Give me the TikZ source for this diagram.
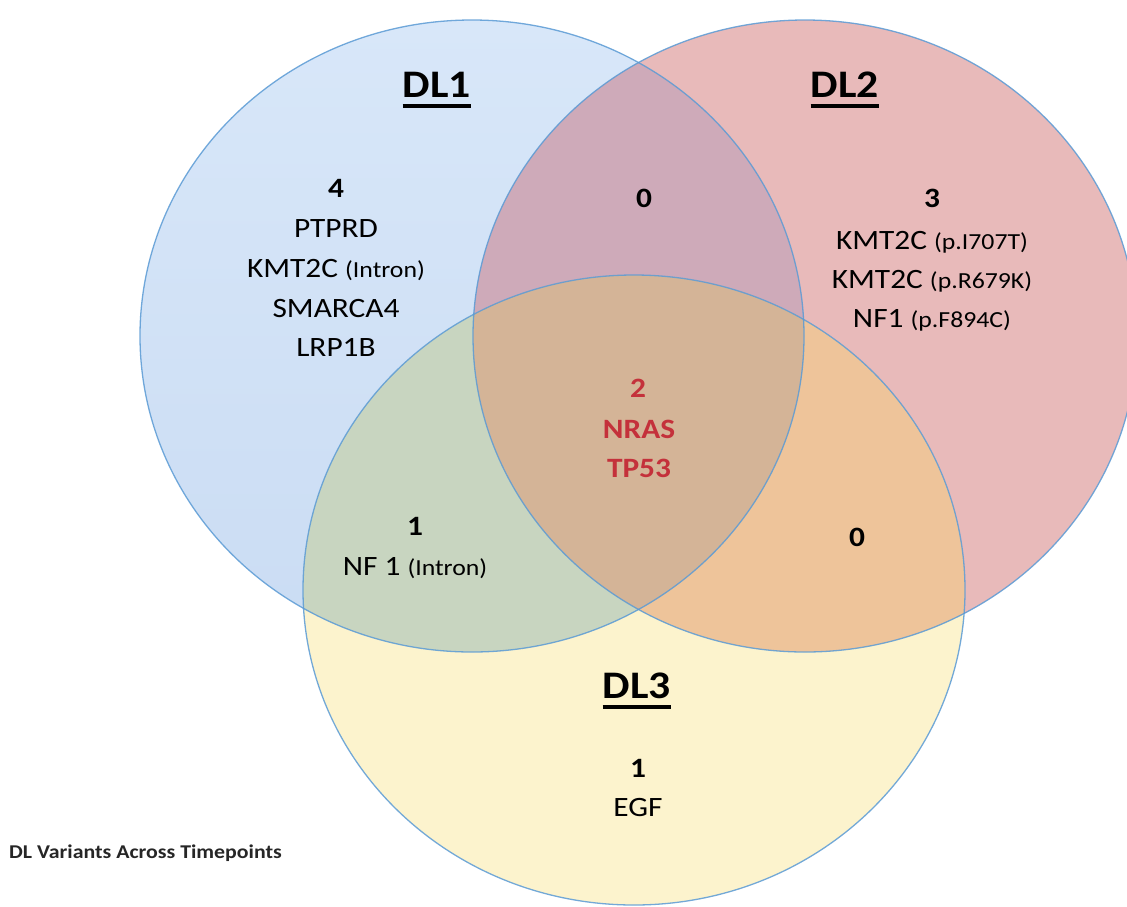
\documentclass[tikz,border=0pt]{standalone}
\usepackage{fontspec}
\setmainfont{Carlito}
\definecolor{cblue}{HTML}{CADCF3}
\definecolor{cbluetop}{HTML}{D8E7F9}
\definecolor{cpink}{HTML}{E8BABA}
\definecolor{cyellow}{HTML}{FCF3CD}
\definecolor{cmauve}{HTML}{CEAAB9}
\definecolor{cgreen}{HTML}{C8D5C0}
\definecolor{corange}{HTML}{EEC49A}
\definecolor{ccenter}{HTML}{D4B497}
\definecolor{cline}{HTML}{5B9BD5}
\definecolor{cred}{HTML}{C4313B}
\newcommand{\hstretch}[1]{\scalebox{1.12}[1]{#1}}
\newcommand{\paren}[1]{{\fontsize{23}{23}\selectfont #1}}
\tikzset{
  setlbl/.style={font=\fontsize{39}{39}\selectfont\bfseries, anchor=base, inner sep=0pt},
  setnum/.style={font=\fontsize{28}{28}\selectfont\bfseries, anchor=base, inner sep=0pt},
  setitem/.style={font=\fontsize{28}{28}\selectfont, anchor=base, inner sep=0pt},
  redtext/.style={text=cred},
  uline/.style={line width=4pt},
  outline/.style={draw=cline, line width=1.3pt, draw opacity=0.85},
}
\begin{document}
\begin{tikzpicture}[x=1pt,y=-1pt]
\useasboundingbox (0,0) rectangle (1127,906);
\fill[white] (0,0) rectangle (1127,906);
% base fills
\shade[top color=cbluetop, bottom color=cblue] (472,336) ellipse [x radius=332pt, y radius=316pt];
\fill[cpink] (805,336) ellipse [x radius=332pt, y radius=316pt];
\fill[cyellow] (634,590) ellipse [x radius=331pt, y radius=315pt];
% pairwise overlaps
\begin{scope}
  \clip (472,336) ellipse [x radius=332pt, y radius=316pt];
  \fill[cmauve] (805,336) ellipse [x radius=332pt, y radius=316pt];
  \fill[cgreen] (634,590) ellipse [x radius=331pt, y radius=315pt];
\end{scope}
\begin{scope}
  \clip (805,336) ellipse [x radius=332pt, y radius=316pt];
  \fill[corange] (634,590) ellipse [x radius=331pt, y radius=315pt];
\end{scope}
\begin{scope}
  \clip (472,336) ellipse [x radius=332pt, y radius=316pt];
  \clip (805,336) ellipse [x radius=332pt, y radius=316pt];
  \fill[ccenter] (634,590) ellipse [x radius=331pt, y radius=315pt];
\end{scope}
% outlines
\draw[outline] (472,336) ellipse [x radius=332pt, y radius=316pt];
\draw[outline] (805,336) ellipse [x radius=332pt, y radius=316pt];
\draw[outline] (634,590) ellipse [x radius=331pt, y radius=315pt];
% set labels
\node[setlbl] (dl1) at (437,97) {\hstretch{DL1}};
\node[setlbl] (dl2) at (845,97) {\hstretch{DL2}};
\node[setlbl] (dl3) at (637,698) {\hstretch{DL3}};
\draw[uline] ([yshift=-9pt]dl1.base west) -- ([yshift=-9pt]dl1.base east);
\draw[uline] ([yshift=-9pt]dl2.base west) -- ([yshift=-9pt]dl2.base east);
\draw[uline] ([yshift=-9pt]dl3.base west) -- ([yshift=-9pt]dl3.base east);
% DL1 only
\node[setnum] (n4) at (336,197) {\hstretch{4}};
\node[setitem] (g1a) at (336,237) {\hstretch{PTPRD}};
\node[setitem] (g1b) at (336,277) {\hstretch{KMT2C \paren{(Intron)}}};
\node[setitem] (g1c) at (336,317) {\hstretch{SMARCA4}};
\node[setitem] (g1d) at (336,356) {\hstretch{LRP1B}};
% DL1 & DL2
\node[setnum] (n12) at (644,207) {\hstretch{0}};
% DL2 only
\node[setnum] (n3) at (932,207) {\hstretch{3}};
\node[setitem] (g2a) at (932,249) {\hstretch{KMT2C \paren{(p.I707T)}}};
\node[setitem] (g2b) at (932,288) {\hstretch{KMT2C \paren{(p.R679K)}}};
\node[setitem] (g2c) at (932,327) {\hstretch{NF1 \paren{(p.F894C)}}};
% all three
\node[setnum, redtext] (n123) at (638,397) {\hstretch{2}};
\node[setnum, redtext] (gca) at (639,438) {\hstretch{NRAS}};
\node[setnum, redtext] (gcb) at (639,477) {\hstretch{TP53}};
% DL1 & DL3
\node[setnum] (n13) at (415,535) {\hstretch{1}};
\node[setitem] (g13) at (415,575) {\hstretch{NF 1 \paren{(Intron)}}};
% DL2 & DL3
\node[setnum] (n23) at (857,546) {\hstretch{0}};
% DL3 only
\node[setnum] (n3only) at (638,777) {\hstretch{1}};
\node[setitem] (g3) at (638,816) {\hstretch{EGF}};
% caption
\node[font=\fontsize{19.5}{19.5}\selectfont\bfseries, anchor=base west, inner sep=0pt, text=black!85] (cap) at (9,858) {\hstretch{DL Variants Across Timepoints}};
\end{tikzpicture}
\end{document}
